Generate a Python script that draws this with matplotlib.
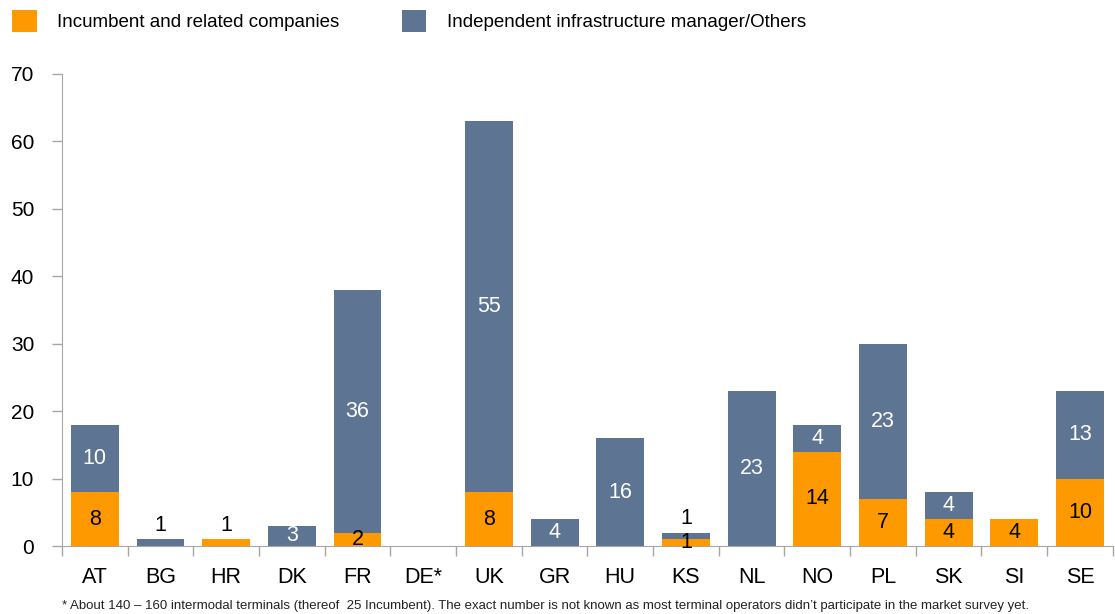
import matplotlib
matplotlib.use("Agg")
import matplotlib.pyplot as plt
import numpy as np

countries = ["AT", "BG", "HR", "DK", "FR", "DE*", "UK", "GR", "HU", "KS", "NL", "NO", "PL", "SK", "SI", "SE"]
incumbent = [8, 0, 1, 0, 2, 0, 8, 0, 0, 1, 0, 14, 7, 4, 4, 10]
independent = [10, 1, 0, 3, 36, 0, 55, 4, 16, 1, 23, 4, 23, 4, 0, 13]
yticks = [0, 10, 20, 30, 40, 50, 60, 70]
footnote = ("* About 140 \u2013 160 intermodal terminals (thereof  25 Incumbent). The exact number is not known "
            "as most terminal operators didn\u2019t participate in the market survey yet.")

orange = "#FF9900"
blue = "#5D7593"
fam = ["Liberation Sans", "DejaVu Sans"]

fig = plt.figure(figsize=(11.15, 6.14), dpi=100)
ax = fig.add_axes([0.0556, 0.1107, 0.9424, 0.7688])

x = np.arange(len(countries))
w = 0.73
b1 = ax.bar(x, incumbent, w, color=orange, label="Incumbent and related companies")
b2 = ax.bar(x, independent, w, bottom=incumbent, color=blue, label="Independent infrastructure manager/Others")

# data labels
for i in range(len(countries)):
    inc = incumbent[i]
    ind = independent[i]
    total = inc + ind
    if inc > 0:
        if inc <= 1 and ind == 0:
            ax.text(x[i], total + 2.1, str(inc), ha="center", va="center", fontsize=15.5, family=fam, color="black")
        else:
            ax.text(x[i], inc / 2, str(inc), ha="center", va="center", fontsize=15.5, family=fam, color="black")
    if ind > 0:
        if ind <= 1:
            ax.text(x[i], total + 2.1, str(ind), ha="center", va="center", fontsize=15.5, family=fam, color="black")
        else:
            ax.text(x[i], inc + ind / 2, str(ind), ha="center", va="center", fontsize=15.5, family=fam, color="white")

ax.set_xlim(-0.5, len(countries) - 0.5)
ax.set_ylim(0, 70)
ax.set_yticks(yticks)
ax.set_yticklabels([str(v) for v in yticks], family=fam, fontsize=15)
ax.set_xticks(x)
ax.set_xticklabels(countries, family=fam, fontsize=15.5)
ax.tick_params(axis="x", length=0, pad=15)
ax.set_xticks(np.arange(-0.5, len(countries), 1), minor=True)
ax.tick_params(axis="x", which="minor", length=7, color="#A6A6A6", width=1)
ax.tick_params(axis="y", length=7, color="#A6A6A6", width=1, pad=13)

for s in ["top", "right"]:
    ax.spines[s].set_visible(False)
ax.spines["left"].set_color("#A6A6A6")
ax.spines["bottom"].set_color("#A6A6A6")

fig.legend(handles=[b1, b2], loc="upper left", bbox_to_anchor=(-0.004, 1.012), ncol=2, frameon=False,
           prop={"family": fam, "size": 13.5}, handlelength=1.3, handleheight=1.45,
           handletextpad=1.1, columnspacing=3.3)

fig.text(0.0556, 0.008, footnote, fontsize=9.5, family=fam, color="#222222")

fig.savefig("out.png", dpi=100)
